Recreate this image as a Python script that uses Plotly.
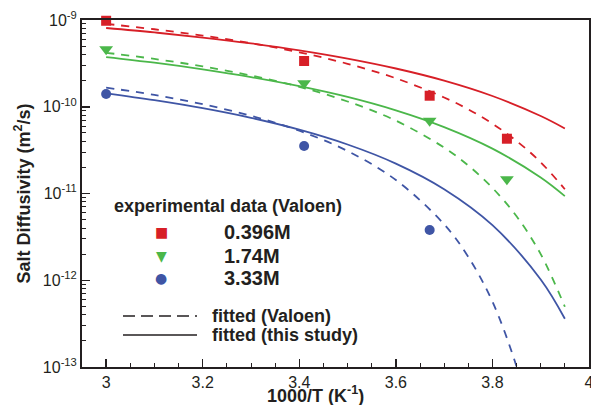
import plotly.graph_objects as go

# ---- data ----
x_exp = [3.0, 3.41, 3.67, 3.83]
d_0396 = [9.8e-10, 3.37e-10, 1.34e-10, 4.28e-11]
x_exp_174 = [3.0, 3.41, 3.67, 3.83]
d_174 = [4.6e-10, 1.86e-10, 6.9e-11, 1.46e-11]
x_exp_333 = [3.0, 3.41, 3.67]
d_333 = [1.40e-10, 3.53e-11, 3.8e-12]

x_fit = [3.0, 3.1, 3.2, 3.3, 3.4, 3.5, 3.6, 3.7, 3.75, 3.8, 3.85, 3.9, 3.95]
valoen_0396 = [9.02e-10, 7.82e-10, 6.61e-10, 5.41e-10, 4.24e-10, 3.13e-10, 2.13e-10,
               1.28e-10, 9.33e-11, 6.38e-11, 4.03e-11, 2.29e-11, 1.12e-11]
valoen_174 = [4.19e-10, 3.56e-10, 2.92e-10, 2.29e-10, 1.70e-10, 1.15e-10, 6.92e-11,
              3.38e-11, 2.10e-11, 1.16e-11, 5.46e-12, 2.00e-12, 4.95e-13]
x_fit_333 = [3.0, 3.1, 3.2, 3.3, 3.4, 3.5, 3.6, 3.7, 3.75, 3.8, 3.85, 3.875]
valoen_333 = [1.66e-10, 1.37e-10, 1.07e-10, 7.87e-11, 5.29e-11, 3.09e-11, 1.43e-11,
              4.41e-12, 1.855e-12, 5.67e-13, 1.01e-13, 3.06e-14]

x_study = [3.0, 3.1, 3.2, 3.3, 3.4, 3.5, 3.6, 3.7, 3.8, 3.9, 3.95]
study_0396 = [8.09e-10, 7.19e-10, 6.28e-10, 5.37e-10, 4.47e-10, 3.59e-10, 2.76e-10,
              2.00e-10, 1.33e-10, 7.82e-11, 5.62e-11]
study_174 = [3.74e-10, 3.22e-10, 2.70e-10, 2.20e-10, 1.73e-10, 1.30e-10, 9.10e-11,
             5.83e-11, 3.29e-11, 1.53e-11, 9.33e-12]
study_333 = [1.43e-10, 1.19e-10, 9.63e-11, 7.45e-11, 5.44e-11, 3.67e-11, 2.21e-11,
             1.12e-11, 4.31e-12, 1.02e-12, 3.60e-13]

x_ticks = [3.0, 3.2, 3.4, 3.6, 3.8, 4.0]
x_ticktext = ["3", "3.2", "3.4", "3.6", "3.8", "4"]
y_ticks = [1e-13, 1e-12, 1e-11, 1e-10, 1e-9]
y_ticktext = ["10<sup>-13</sup>", "10<sup>-12</sup>", "10<sup>-11</sup>",
              "10<sup>-10</sup>", "10<sup>-9</sup>"]
y_minor = [m * 10.0 ** e for e in range(-13, -9) for m in range(2, 10)]

series_labels = ["0.396M", "1.74M", "3.33M"]
legend_title = "experimental data (Valoen)"
line_labels = ["fitted (Valoen)", "fitted (this study)"]

# ---- styles ----
RED, GREEN, BLUE = "#d71f27", "#4bb74a", "#3f55a5"
INK = "#231f20"
FONT = "Liberation Sans, Arial, Helvetica, sans-serif"
W, H = 591, 405
L, R, T, B = 82, 2, 20, 38
PW, PH = W - L - R, H - T - B


def px(x):
    return (x - L) / PW


def py(y):
    return (H - B - y) / PH


fig = go.Figure()

dash = "8px,7px"
for xs, ys, c in [(x_fit, valoen_0396, RED), (x_fit, valoen_174, GREEN), (x_fit_333, valoen_333, BLUE)]:
    fig.add_trace(go.Scatter(x=xs, y=ys, mode="lines", line=dict(color=c, width=1.8, dash=dash, shape="spline"),
                             showlegend=False, hoverinfo="skip"))
for ys, c in [(study_0396, RED), (study_174, GREEN), (study_333, BLUE)]:
    fig.add_trace(go.Scatter(x=x_study, y=ys, mode="lines", line=dict(color=c, width=1.8, shape="spline"),
                             showlegend=False, hoverinfo="skip"))

fig.add_trace(go.Scatter(x=x_exp, y=d_0396, mode="markers", name=series_labels[0],
                         marker=dict(symbol="square", size=10, color=RED), showlegend=False, cliponaxis=False))
fig.add_trace(go.Scatter(x=x_exp_174, y=d_174, mode="markers", name=series_labels[1],
                         marker=dict(symbol="triangle-down", size=12, color=GREEN), showlegend=False, cliponaxis=False))
fig.add_trace(go.Scatter(x=x_exp_333, y=d_333, mode="markers", name=series_labels[2],
                         marker=dict(symbol="circle", size=10, color=BLUE), showlegend=False, cliponaxis=False))

ann = []
# axis titles
ann.append(dict(x=px(315), y=py(394), xref="paper", yref="paper", text="<b>1000/T (K<sup>-1</sup>)</b>",
                showarrow=False, font=dict(size=18, color=INK, family=FONT), xanchor="center", yanchor="middle"))
ann.append(dict(x=px(23), y=0.5, xref="paper", yref="paper", text="<b>Salt Diffusivity (m<sup>2</sup>/s)</b>",
                showarrow=False, textangle=-90, font=dict(size=18, color=INK, family=FONT),
                xanchor="center", yanchor="middle"))
# custom legend
ann.append(dict(x=px(112), y=py(206), xref="paper", yref="paper", text="<b>" + legend_title + "</b>",
                showarrow=False, font=dict(size=18, color=INK, family=FONT), xanchor="left", yanchor="middle"))
glyphs = [("■", RED, 14, 232), ("▼", GREEN, 14, 256), ("●", BLUE, 14, 278)]
for (g, c, s, yy), lab in zip(glyphs, series_labels):
    ann.append(dict(x=px(161), y=py(yy), xref="paper", yref="paper", text=g, showarrow=False,
                    font=dict(size=s, color=c, family="DejaVu Sans"), xanchor="center", yanchor="middle"))
    ann.append(dict(x=px(222), y=py(yy), xref="paper", yref="paper", text="<b>" + lab + "</b>", showarrow=False,
                    font=dict(size=20, color=INK, family=FONT), xanchor="left", yanchor="middle"))
for lab, yy in zip(line_labels, [316, 335]):
    ann.append(dict(x=px(210), y=py(yy), xref="paper", yref="paper", text="<b>" + lab + "</b>", showarrow=False,
                    font=dict(size=18, color=INK, family=FONT), xanchor="left", yanchor="middle"))

shapes = [
    dict(type="line", xref="paper", yref="paper", x0=px(123), x1=px(197), y0=py(316), y1=py(316),
         line=dict(color=INK, width=1.5, dash="12px,6px")),
    dict(type="line", xref="paper", yref="paper", x0=px(123), x1=px(197), y0=py(335), y1=py(335),
         line=dict(color=INK, width=1.5)),
]

fig.update_layout(
    width=W, height=H,
    margin=dict(l=L, r=R, t=T, b=B, pad=0, autoexpand=False),
    paper_bgcolor="white", plot_bgcolor="white",
    font=dict(family=FONT, color=INK, size=16),
    annotations=ann, shapes=shapes,
    xaxis=dict(range=[2.95, 4.0], tickmode="array", tickvals=x_ticks, ticktext=x_ticktext,
               ticks="inside", ticklen=8, tickwidth=1.5, tickcolor=INK, automargin=False,
               ticklabeloverflow="allow",
               minor=dict(ticks="inside", ticklen=4, tickwidth=1, tickcolor=INK, dtick=0.05, tick0=3.0,
                          showgrid=False),
               showline=True, linecolor=INK, linewidth=2, mirror=True, showgrid=False, zeroline=False,
               tickfont=dict(size=16, color=INK, family=FONT)),
    yaxis=dict(type="log", range=[-13, -9], tickmode="array", tickvals=y_ticks, ticktext=y_ticktext,
               ticks="inside", ticklen=8, tickwidth=1.5, tickcolor=INK, automargin=False,
               ticklabeloverflow="allow",
               minor=dict(ticks="inside", ticklen=4, tickwidth=1, tickcolor=INK, tickmode="array",
                          tickvals=y_minor, showgrid=False),
               showline=True, linecolor=INK, linewidth=2, mirror=True, showgrid=False, zeroline=False,
               tickfont=dict(size=16, color=INK, family=FONT)),
)

fig.write_html("out.html", config={"displayModeBar": False, "staticPlot": True},
               post_script="document.body.style.margin='0px';document.body.style.overflow='hidden';")
